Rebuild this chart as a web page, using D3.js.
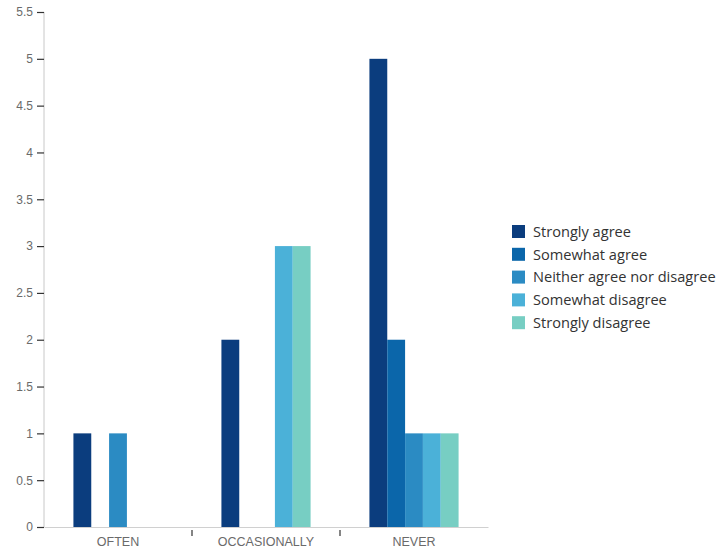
<!DOCTYPE html>
<html>
<head>
<meta charset="utf-8">
<script src="https://cdn.jsdelivr.net/npm/d3@7"></script>
<style>
  body { margin: 0; background: #fff; }
  svg { display: block; font-family: "Open Sans", "Noto Sans", sans-serif; }
</style>
</head>
<body>
<svg id="chart" width="723" height="556"></svg>
<script>
// Survey responses per frequency category
const categories = ["OFTEN", "OCCASIONALLY", "NEVER"];
const seriesNames = ["Strongly agree", "Somewhat agree", "Neither agree nor disagree", "Somewhat disagree", "Strongly disagree"];
const stronglyAgree    = [1, 2, 5];
const somewhatAgree    = [0, 0, 2];
const neitherAgree     = [1, 0, 1];
const somewhatDisagree = [0, 3, 1];
const stronglyDisagree = [0, 3, 1];
const yTicks = [0, 0.5, 1, 1.5, 2, 2.5, 3, 3.5, 4, 4.5, 5, 5.5];
const colors = ["#0b3d7e", "#0b66aa", "#2b8bc3", "#4bb1d8", "#77cec3"];

const seriesValues = [stronglyAgree, somewhatAgree, neitherAgree, somewhatDisagree, stronglyDisagree];

const svg = d3.select("#chart");
const plotLeft = 44, plotRight = 488, plotTop = 12, plotBottom = 527;

const x0 = d3.scaleBand().domain(categories).range([plotLeft, plotRight]).paddingInner(0).paddingOuter(0);
const x1 = d3.scaleBand().domain(seriesNames).range([0, x0.bandwidth()]).paddingOuter(1.65).paddingInner(0);
const y = d3.scaleLinear().domain([0, 5.5]).range([plotBottom, plotTop]);
const color = d3.scaleOrdinal().domain(seriesNames).range(colors);

// Bars
const groups = svg.append("g").selectAll("g")
  .data(categories)
  .join("g")
  .attr("transform", d => `translate(${x0(d)},0)`);

groups.selectAll("rect")
  .data((c, ci) => seriesNames.map((s, si) => ({ s, v: seriesValues[si][ci] })).filter(d => d.v > 0))
  .join("rect")
  .attr("x", d => x1(d.s))
  .attr("y", d => y(d.v))
  .attr("width", x1.bandwidth())
  .attr("height", d => y(0) - y(d.v))
  .attr("fill", d => color(d.s));

// Y axis
const yAxis = svg.append("g")
  .attr("transform", `translate(${plotLeft},0)`)
  .call(d3.axisLeft(y).tickValues(yTicks).tickSize(7).tickPadding(4).tickFormat(d3.format("")));
yAxis.select(".domain").attr("stroke", "#c8c8c8").attr("d", `M0,${plotTop}V${plotBottom}`);
yAxis.selectAll(".tick line").attr("stroke", "#333").attr("stroke-width", 1.2);
yAxis.selectAll(".tick text").attr("fill", "#6a6a6a").style("font-size", "12px");

// X axis
const xAxis = svg.append("g")
  .attr("transform", `translate(0,${plotBottom})`)
  .call(d3.axisBottom(x0).tickSize(0).tickPadding(10));
xAxis.select(".domain").attr("stroke", "#d0d0d0");
xAxis.selectAll(".tick text").attr("fill", "#6a6a6a").style("font-size", "12.5px");

// Separators between categories
svg.append("g").selectAll("line")
  .data(categories.slice(1))
  .join("line")
  .attr("x1", d => x0(d)).attr("x2", d => x0(d))
  .attr("y1", plotBottom + 3).attr("y2", plotBottom + 9)
  .attr("stroke", "#333").attr("stroke-width", 1.2);

// Legend
const legend = svg.append("g").attr("transform", "translate(512,225)");
const items = legend.selectAll("g")
  .data(seriesNames)
  .join("g")
  .attr("transform", (d, i) => `translate(0,${i * 22.8})`);
items.append("rect")
  .attr("width", 13).attr("height", 13)
  .attr("fill", d => color(d));
items.append("text")
  .attr("x", 21).attr("y", 6.5)
  .attr("dy", "0.36em")
  .attr("fill", "#333")
  .style("font-size", "14.6px")
  .text(d => d);
</script>
</body>
</html>
